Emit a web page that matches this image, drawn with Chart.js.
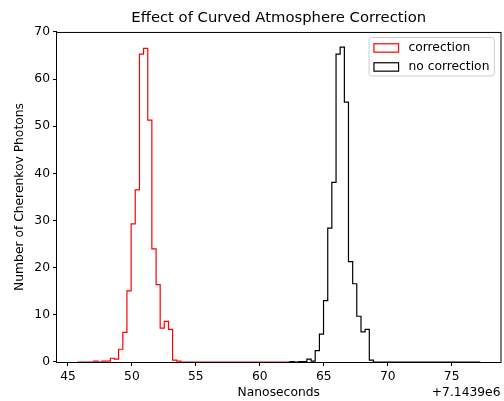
<!DOCTYPE html>
<html><head><meta charset="utf-8">
<script src="https://cdn.jsdelivr.net/npm/chart.js@4.4.0/dist/chart.umd.min.js"></script>
<style>html,body{margin:0;padding:0;background:#fff;overflow:hidden}canvas{display:block}</style>
</head><body>
<canvas id="c" width="504" height="401"></canvas>
<script>
// ---- data (x values are offsets from 7.1439e6 ns) ----
const chartTitle = 'Effect of Curved Atmosphere Correction';
const xAxisLabel = 'Nanoseconds';
const yAxisLabel = 'Number of Cherenkov Photons';
const xOffsetLabel = '+7.1439e6';
const xTicks = [45, 50, 55, 60, 65, 70, 75];
const yTicks = [0, 10, 20, 30, 40, 50, 60, 70];
const seriesLabels = ['correction', 'no correction'];

const redRange = [45.72, 62.20];
const redEdges = [47.02, 47.34, 47.67, 47.99, 48.32, 48.64, 48.96, 49.29, 49.61, 49.94, 50.26,
                  50.59, 50.91, 51.24, 51.56, 51.89, 52.21, 52.53, 52.86, 53.18, 53.51, 53.83];
const redCounts = [0.2, 0, 0.2, 0.2, 0.8, 0.6, 2.7, 6.3, 15.1, 29.3, 36.5,
                   65.3, 66.5, 51.3, 24.0, 16.4, 7.2, 8.6, 6.9, 0.4, 0.2];

const blackRange = [62.20, 77.24];
const blackEdges = [62.38, 62.71, 63.03, 63.36, 63.68, 64.01, 64.33, 64.66, 64.98, 65.31, 65.63,
                    65.96, 66.28, 66.61, 66.93, 67.26, 67.58, 67.91, 68.23, 68.56, 68.88];
const blackCounts = [0.1, 0, 0.1, 0.1, 0.6, 0.2, 2.4, 5.9, 13.0, 28.4,
                     38.1, 65.3, 66.8, 55.1, 21.3, 16.6, 9.7, 6.4, 6.9, 0.4];

// histogram outline points (bin i holds counts[i] over [edges[i], edges[i+1]])
function stepPoints(range, edges, counts) {
  const pts = [{x: range[0], y: 0}];
  edges.forEach((e, i) => pts.push({x: e, y: i < counts.length ? counts[i] : 0}));
  pts.push({x: range[1], y: 0});
  return pts;
}

const lo = Math.min(redRange[0], blackRange[0]);
const hi = Math.max(redRange[1], blackRange[1]);
const xMin = lo - 0.05 * (hi - lo);
const xMax = hi + 0.05 * (hi - lo);

const FONT = 'DejaVu Sans';
const FS = 12.3;
Chart.defaults.font.family = FONT;
Chart.defaults.font.size = FS;
Chart.defaults.color = '#000';

const decor = {
  id: 'decor',
  afterDatasetsDraw(chart) {
    const {ctx, chartArea: a} = chart;
    ctx.save();
    ctx.strokeStyle = '#000';
    ctx.lineWidth = 1;
    ctx.strokeRect(a.left - 0.5, a.top + 0.5, a.right - a.left + 1, a.bottom - a.top);
    ctx.restore();
  },
  afterDraw(chart) {
    const {ctx, chartArea: a} = chart;
    ctx.save();
    // offset text
    ctx.font = FS + 'px "' + FONT + '"';
    ctx.fillStyle = '#000';
    ctx.textAlign = 'right';
    ctx.textBaseline = 'middle';
    ctx.fillText(xOffsetLabel, a.right, 393);
    // legend
    const pad = 0.4 * FS, hl = 2 * FS, htp = 0.8 * FS;
    let tw = 0;
    chart.data.datasets.forEach(d => { tw = Math.max(tw, ctx.measureText(d.label).width); });
    const bw = pad + hl + htp + tw + pad;
    const bh = 38.5;
    const bx = a.right - 0.5 * FS - bw;
    const by = a.top + 5.5;
    const r = 2.5;
    ctx.beginPath();
    ctx.moveTo(bx + r, by);
    ctx.arcTo(bx + bw, by, bx + bw, by + bh, r);
    ctx.arcTo(bx + bw, by + bh, bx, by + bh, r);
    ctx.arcTo(bx, by + bh, bx, by, r);
    ctx.arcTo(bx, by, bx + bw, by, r);
    ctx.closePath();
    ctx.fillStyle = 'rgba(255,255,255,0.8)';
    ctx.fill();
    ctx.strokeStyle = '#cccccc';
    ctx.lineWidth = 1;
    ctx.stroke();
    ctx.textAlign = 'left';
    chart.data.datasets.forEach((d, i) => {
      const cy = by + 10.5 + i * 19;
      ctx.strokeStyle = d.borderColor;
      ctx.lineWidth = 1.2;
      ctx.strokeRect(bx + pad, cy - 4.2, hl, 8.4);
      ctx.fillStyle = '#000';
      ctx.fillText(d.label, bx + pad + hl + htp, cy);
    });
    ctx.restore();
  }
};

new Chart(document.getElementById('c'), {
  type: 'line',
  data: {
    datasets: [
      {label: seriesLabels[0], data: stepPoints(redRange, redEdges, redCounts),
       borderColor: 'rgb(255,0,0)', backgroundColor: 'rgba(0,0,0,0)', borderWidth: 1.2,
       stepped: 'before', pointRadius: 0, fill: false, order: 2},
      {label: seriesLabels[1], data: stepPoints(blackRange, blackEdges, blackCounts),
       borderColor: 'rgb(0,0,0)', backgroundColor: 'rgba(0,0,0,0)', borderWidth: 1.2,
       stepped: 'before', pointRadius: 0, fill: false, order: 1}
    ]
  },
  options: {
    responsive: false,
    animation: false,
    events: [],
    layout: {padding: {left: 0, right: 3.5, top: 0, bottom: 0}},
    plugins: {
      legend: {display: false},
      tooltip: {enabled: false},
      title: {display: true, text: chartTitle, color: '#000', fullSize: false,
              font: {size: 14.8, weight: 'normal'}, padding: {top: 9, bottom: 5.2}}
    },
    scales: {
      x: {
        type: 'linear', min: xMin, max: xMax,
        afterBuildTicks: s => { s.ticks = xTicks.map(v => ({value: v})); },
        afterFit: s => { s.height = 39; },
        ticks: {color: '#000', padding: 3, maxRotation: 0, autoSkip: false, callback: v => String(v)},
        grid: {display: true, drawOnChartArea: false, drawTicks: true, tickLength: 4, tickWidth: 1, tickColor: '#000'},
        border: {display: false},
        title: {display: true, text: xAxisLabel, color: '#000', padding: {top: 0, bottom: 1}}
      },
      y: {
        type: 'linear', min: 0, max: 70,
        afterBuildTicks: s => { s.ticks = yTicks.map(v => ({value: v})); },
        afterFit: s => { s.width = 57; },
        ticks: {color: '#000', padding: 3, callback: v => String(v)},
        grid: {display: true, drawOnChartArea: false, drawTicks: true, tickLength: 4, tickWidth: 1, tickColor: '#000'},
        border: {display: false},
        title: {display: true, text: yAxisLabel, color: '#000', padding: {top: 12, bottom: 0}}
      }
    }
  },
  plugins: [decor]
});
</script>
</body></html>
